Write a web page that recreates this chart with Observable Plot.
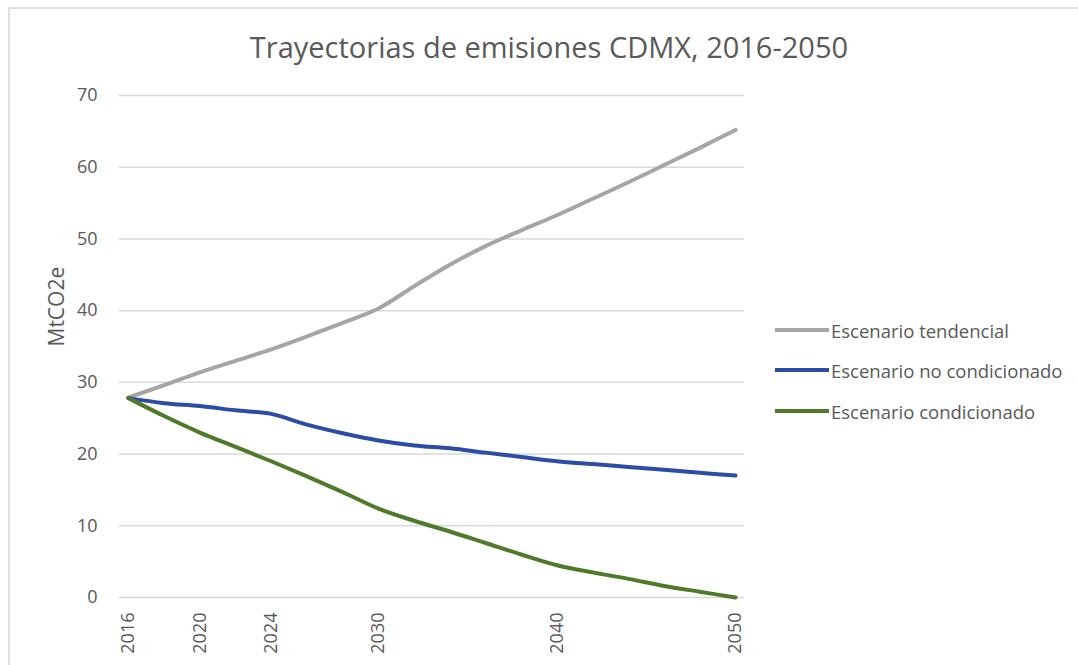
<!DOCTYPE html>
<html>
<head>
<meta charset="utf-8">
<script src="https://cdn.jsdelivr.net/npm/d3@7"></script>
<script src="https://cdn.jsdelivr.net/npm/@observablehq/plot@0.6"></script>
<style>
  body { margin: 0; background: #fff; font-family: "Open Sans", sans-serif; color: #595959; }
  #wrap { position: relative; width: 1078px; height: 665px; overflow: hidden; background: #fff; }
  #frame { position: absolute; left: 8px; top: 7px; width: 1200px; height: 800px; border: 2px solid #dedede; }
  #title { position: absolute; left: 0; top: 32px; width: 1098px; text-align: center; font-size: 29px; line-height: 29px; color: #595959; white-space: nowrap; }
  #chart { position: absolute; left: 0; top: 70px; }
  .legrow { position: absolute; left: 775px; height: 20px; display: flex; align-items: center; font-size: 18.5px; color: #595959; white-space: nowrap; }
  .sw { width: 54px; height: 4px; margin-right: 2px; }
</style>
</head>
<body>
<div id="wrap">
  <div id="frame"></div>
  <div id="title">Trayectorias de emisiones CDMX, 2016-2050</div>
  <div id="chart"></div>
  <div id="legend"></div>
</div>
<script>
const years = [2016, 2018, 2020, 2022, 2024, 2026, 2028, 2030, 2032, 2034, 2036, 2038, 2040, 2042, 2044, 2046, 2048, 2050];
const tendencial     = [27.9, 29.6, 31.4, 33.0, 34.6, 36.4, 38.3, 40.3, 43.4, 46.4, 49.0, 51.2, 53.3, 55.6, 57.9, 60.3, 62.7, 65.2];
const noCondicionado = [27.8, 27.1, 26.7, 26.1, 25.6, 24.1, 22.9, 21.9, 21.2, 20.8, 20.2, 19.6, 19.0, 18.6, 18.2, 17.8, 17.4, 17.0];
const condicionado   = [27.8, 25.3, 23.0, 21.0, 19.0, 16.9, 14.7, 12.4, 10.7, 9.2, 7.6, 6.0, 4.5, 3.5, 2.6, 1.6, 0.8, 0.0];
const seriesNames = ["Escenario tendencial", "Escenario no condicionado", "Escenario condicionado"];
const seriesColors = ["#a5a5a5", "#2d4ca8", "#4e7a2a"];
const xTicks = [2016, 2020, 2024, 2030, 2040, 2050];
const yTicks = [0, 10, 20, 30, 40, 50, 60, 70];
const yLabel = "MtCO2e";

const valuesBySeries = [tendencial, noCondicionado, condicionado];
const data = [];
seriesNames.forEach((s, i) => years.forEach((yr, j) => data.push({series: s, year: yr, value: valuesBySeries[i][j]})));

const chart = Plot.plot({
  width: 1078,
  height: 595,
  marginLeft: 119,
  marginRight: 334,
  marginTop: 25,
  marginBottom: 68,
  style: { fontFamily: "Open Sans", color: "#595959", background: "transparent" },
  x: { domain: [2015.5, 2050.5] },
  y: { domain: [0, 70] },
  color: { domain: seriesNames, range: seriesColors },
  marks: [
    Plot.gridY(yTicks, { stroke: "#d9d9d9", strokeOpacity: 1, strokeWidth: 1.5 }),
    Plot.axisY(yTicks, { tickSize: 0, tickPadding: 22, fontSize: 18, label: null }),
    Plot.axisX(xTicks, { tickSize: 0, tickRotate: -90, tickPadding: 15, fontSize: 18, label: null, tickFormat: d => String(d) }),
    Plot.line(data, { x: "year", y: "value", z: "series", stroke: "series", strokeWidth: 4, curve: "catmull-rom" }),
    Plot.text([yLabel], { frameAnchor: "left", dx: -62, rotate: -90, fontSize: 21, fill: "#595959" })
  ]
});
document.getElementById("chart").appendChild(chart);

const legendTops = [320, 360, 401];
const legend = document.getElementById("legend");
seriesNames.forEach((s, i) => {
  const row = document.createElement("div");
  row.className = "legrow";
  row.style.top = legendTops[i] + "px";
  const sw = document.createElement("div");
  sw.className = "sw";
  sw.style.background = seriesColors[i];
  const t = document.createElement("span");
  t.textContent = s;
  row.appendChild(sw);
  row.appendChild(t);
  legend.appendChild(row);
});
</script>
</body>
</html>
